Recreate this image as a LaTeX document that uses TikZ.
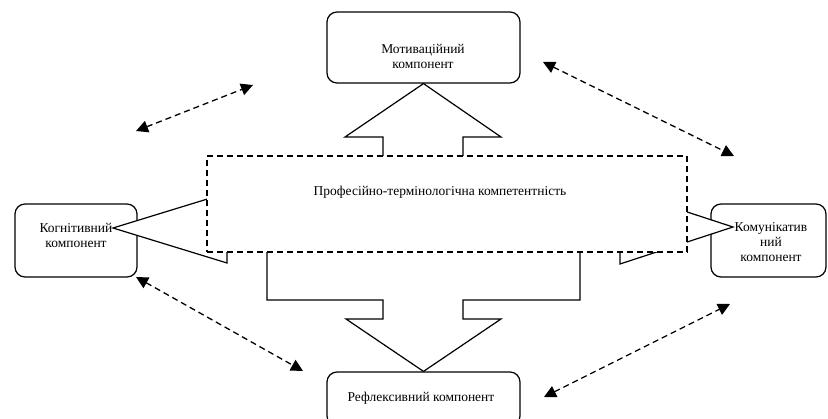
\documentclass[tikz,border=0pt]{standalone}
\usepackage{fontspec}
\setmainfont{Liberation Serif}
\usetikzlibrary{arrows.meta}
\begin{document}
\begin{tikzpicture}[x=1pt,y=-1pt,
  box/.style={draw,line width=1.2pt,rounded corners=10pt,minimum width=#1,inner sep=0pt},
  lbl/.style={align=center,font=\fontsize{13.5}{15}\selectfont,inner sep=0pt},
  blockarrow/.style={draw,line width=1.2pt,fill=white,line join=miter},
  dashbox/.style={draw,line width=1.3pt,dash pattern=on 6pt off 4pt,fill=white,inner sep=0pt},
  dasharrow/.style={line width=1.3pt,dash pattern=on 6pt off 4pt,{Triangle[length=12pt,width=12pt]}-{Triangle[length=12pt,width=12pt]},shorten <=0pt,shorten >=0pt}
]
\useasboundingbox (0,0) rectangle (828,419);
% boxes
\node[box=193pt,minimum height=71pt] (mot) at (423.5,47.5) {};
\node[box=122pt,minimum height=73pt] (kog) at (76,240.5) {};
\node[box=115pt,minimum height=73pt] (kom) at (768.5,240.5) {};
\node[box=193pt,minimum height=54pt] (ref) at (423.5,399) {};
% block arrows
\draw[blockarrow] (mot.south) -- (345,137) -- (383,137) -- (383,170) -- (463,170) -- (463,137) -- (501,137) -- cycle;
\draw[blockarrow] (113,228) -- (227,193) -- (227,205) -- (300,205) -- (300,248) -- (227,248) -- (227,263) -- cycle;
\draw[blockarrow] (733,227) -- (620,190) -- (620,205) -- (560,205) -- (560,248) -- (620,248) -- (620,264) -- cycle;
\draw[blockarrow] (267,240) -- (267,300) -- (383,300) -- (383,319) -- (346,319) -- (ref.north) -- (501,319) -- (463,319) -- (463,300) -- (580,300) -- (580,240) -- cycle;
% central dashed box
\node[dashbox,minimum width=480pt,minimum height=96pt] (prof) at (447,204) {};
\node[lbl] (proft) at (440,192) {Професійно-термінологічна компетентність};
% labels
\node[lbl] (mott) at (423,56.5) {Мотиваційний\\компонент};
\node[lbl] (kogt) at (76,235) {Когнітивний\\компонент};
\node[lbl] (komt) at (771,242) {Комунікатив\\ний\\компонент};
\node[lbl] (reft) at (421,398) {Рефлексивний компонент};
% dashed double arrows
\coordinate (a1) at (136,131); \coordinate (a2) at (253,85);
\coordinate (b1) at (543,62); \coordinate (b2) at (734,156);
\coordinate (c1) at (136,277); \coordinate (c2) at (303,371);
\coordinate (d1) at (544,397); \coordinate (d2) at (730,304);
\draw[dasharrow] (a1) -- (a2);
\draw[dasharrow] (b1) -- (b2);
\draw[dasharrow] (c1) -- (c2);
\draw[dasharrow] (d1) -- (d2);
\end{tikzpicture}
\end{document}
